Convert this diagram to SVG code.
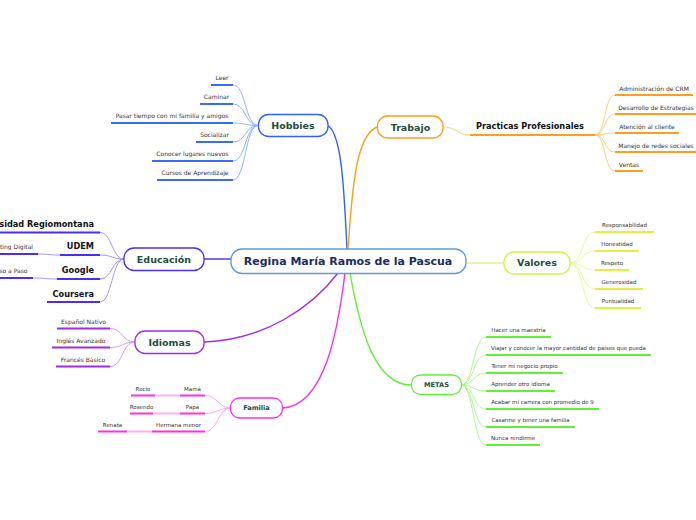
<svg xmlns="http://www.w3.org/2000/svg" width="696" height="520" viewBox="0 0 696 520">
<style>
text{font-family:"DejaVu Sans",Verdana,sans-serif}
.box{fill:#fff;stroke-width:1.3}
.nt{font-weight:bold;font-size:9.5px;fill:#1e4d3b;text-anchor:middle}
.st{font-weight:bold;font-size:6.6px;fill:#1e4d3b;text-anchor:middle}
.bt{font-weight:bold;font-size:8.2px;fill:#111}
.t6{font-size:6px;fill:#333;text-anchor:middle}
.t5{font-size:5.5px;fill:#333;text-anchor:middle}
.ul{stroke-width:2;fill:none}
.cn{fill:none;stroke-width:0.9}
.br{fill:none;stroke-width:1.4}
</style>
<rect width="696" height="520" fill="#fff"/>
<g id="connectors">
  <path class="br" stroke="#2f62f5" d="M347,249 C344,190 342,135 328,125.5"/>
  <path class="br" stroke="#ff9e1a" d="M348,249 C352,190 356,135 377,127"/>
  <path class="br" stroke="#4b2cf0" d="M231,259 L204,259"/>
  <path class="br" stroke="#e4ee90" d="M466,263 L504,263"/>
  <path class="br" stroke="#a12af0" d="M338,273 C312,307 265,340 204,342"/>
  <path class="br" stroke="#ff2ee0" d="M345,273 C338,330 325,405 283,408"/>
  <path class="br" stroke="#62ef35" d="M350,273 C360,330 375,385 411,385"/>
  <g stroke="#8aa8ff" class="cn">
    <path d="M258,125.5 C245,125.5 246,85 233,85"/>
    <path d="M258,125.5 C245,125.5 246,104 233,104"/>
    <path d="M258,125.5 C245,125.5 246,123 233,123"/>
    <path d="M258,125.5 C245,125.5 246,142 233,142"/>
    <path d="M258,125.5 C245,125.5 246,161 233,161"/>
    <path d="M258,125.5 C245,125.5 246,180 233,180"/>
  </g>
  <g stroke="#ffc870" class="cn">
    <path d="M443,127 C458,127 456,135 470,135"/>
    <path d="M595,135 C606,135 604,95 615,95"/>
    <path d="M595,135 C606,135 604,114 615,114"/>
    <path d="M595,135 C606,135 604,133 615,133"/>
    <path d="M595,135 C606,135 604,152 615,152"/>
    <path d="M595,135 C606,135 604,171 615,171"/>
  </g>
  <g stroke="#e8f78a" class="cn">
    <path d="M570,263 C583,263 582,232 595,232"/>
    <path d="M570,263 C583,263 582,251 595,251"/>
    <path d="M570,263 C583,263 582,270 595,270"/>
    <path d="M570,263 C583,263 582,289 595,289"/>
    <path d="M570,263 C583,263 582,308 595,308"/>
  </g>
  <g stroke="#a8f58c" class="cn">
    <path d="M461,385 C474,385 473,337 486,337"/>
    <path d="M461,385 C474,385 473,355 486,355"/>
    <path d="M461,385 C474,385 473,373 486,373"/>
    <path d="M461,385 C474,385 473,391 486,391"/>
    <path d="M461,385 C474,385 473,409 486,409"/>
    <path d="M461,385 C474,385 473,427 486,427"/>
    <path d="M461,385 C474,385 473,445 486,445"/>
  </g>
  <g stroke="#9a8cf5" class="cn">
    <path d="M124,259 C112,259 112,232.5 100,232.5"/>
    <path d="M124,259 C112,259 112,255 100,255"/>
    <path d="M124,259 C112,259 112,279 100,279"/>
    <path d="M124,259 C112,259 112,302 100,302"/>
    <path d="M60,255 C49,255 49,254 38,254"/>
    <path d="M57,279 C45,279 45,278 33,278"/>
  </g>
  <g stroke="#cf90f5" class="cn">
    <path d="M135,342 C122,342 123,328.5 110,328.5"/>
    <path d="M135,342 C122,342 123,347.5 110,347.5"/>
    <path d="M135,342 C122,342 123,366.5 110,366.5"/>
  </g>
  <g stroke="#ff9cf0" class="cn">
    <path d="M230.5,408 C218,408 218,395.5 205,395.5"/>
    <path d="M230.5,408 C218,408 218,413.5 205,413.5"/>
    <path d="M230.5,408 C218,408 218,431.5 205,431.5"/>
  </g>
  <g stroke="#ffb0f2" stroke-width="2">
    <path d="M155,395.5 L180,395.5"/>
    <path d="M153,413.5 L180,413.5"/>
    <path d="M127,431.5 L152,431.5"/>
  </g>
</g>

<g id="central">
  <rect class="box" x="231" y="249" width="235" height="24.5" rx="11" stroke="#5b9bd5"/>
  <text x="348" y="265.3" font-weight="bold" font-size="11px" fill="#1c2d5e" text-anchor="middle">Regina María Ramos de la Pascua</text>
</g>

<g id="hobbies">
  <rect class="box" x="258.5" y="114.5" width="69.5" height="22" rx="10" stroke="#2f62f5"/>
  <text class="nt" x="293" y="129">Hobbies</text>
</g>
<g id="hobbies-items" stroke="#3a6cf5">
  <g id="leer"><path class="ul" d="M211,85H233"/><text class="t6" stroke="none" x="222" y="80">Leer</text></g>
  <g id="caminar"><path class="ul" d="M200,104H233"/><text class="t6" stroke="none" x="216.5" y="99">Caminar</text></g>
  <g id="pasar"><path class="ul" d="M111,123H233"/><text class="t6" stroke="none" x="172" y="118">Pasar tiempo con mi familia y amigos</text></g>
  <g id="socializar"><path class="ul" d="M196,142H233"/><text class="t6" stroke="none" x="214.5" y="137">Socializar</text></g>
  <g id="conocer"><path class="ul" d="M152,161H233"/><text class="t6" stroke="none" x="192.5" y="156">Conocer lugares nuevos</text></g>
  <g id="cursos"><path class="ul" d="M157,180H233"/><text class="t6" stroke="none" x="195" y="175">Cursos de Aprendizaje</text></g>
</g>

<g id="trabajo">
  <rect class="box" x="377.5" y="116" width="65.5" height="22" rx="10" stroke="#ff9e1a"/>
  <text class="nt" x="410.5" y="130.5">Trabajo</text>
</g>
<g id="practicas" stroke="#ff9e1a">
  <path class="ul" d="M470,135H595"/>
  <text class="bt" stroke="none" x="530" y="129.3" style="text-anchor:middle">Practicas Profesionales</text>
</g>
<g id="trabajo-items" stroke="#ff9e1a">
  <g id="crm"><path class="ul" d="M615,95H693"/><text class="t6" stroke="none" x="654" y="90.5">Administración de CRM</text></g>
  <g id="estrategias"><path class="ul" d="M615,114H697"/><text class="t6" stroke="none" x="656" y="109.5">Desarrollo de Estrategias</text></g>
  <g id="atencion"><path class="ul" d="M615,133H679"/><text class="t6" stroke="none" x="647" y="128.5">Atención al cliente</text></g>
  <g id="redes"><path class="ul" d="M615,152H697"/><text class="t6" stroke="none" x="656" y="147.5">Manejo de redes sociales</text></g>
  <g id="ventas"><path class="ul" d="M615,171H643"/><text class="t6" stroke="none" x="629" y="166.5">Ventas</text></g>
</g>

<g id="valores">
  <rect class="box" x="504" y="252" width="66" height="22" rx="10" stroke="#d8f23c"/>
  <text class="nt" x="537" y="266.4">Valores</text>
</g>
<g id="valores-items" stroke="#e0f23c">
  <g id="responsabilidad"><path class="ul" d="M595,232H654"/><text class="t5" stroke="none" x="624.5" y="227">Responsabilidad</text></g>
  <g id="honestidad"><path class="ul" d="M595,251H639"/><text class="t5" stroke="none" x="617" y="246">Honestidad</text></g>
  <g id="respeto"><path class="ul" d="M595,270H629"/><text class="t5" stroke="none" x="612" y="265">Respeto</text></g>
  <g id="generosidad"><path class="ul" d="M595,289H643"/><text class="t5" stroke="none" x="619" y="284">Generosidad</text></g>
  <g id="puntualidad"><path class="ul" d="M595,308H641"/><text class="t5" stroke="none" x="618" y="303">Puntualidad</text></g>
</g>

<g id="metas">
  <rect class="box" x="411.5" y="375" width="50" height="19.5" rx="9" stroke="#62ef35"/>
  <text class="st" x="436.5" y="387.4">METAS</text>
</g>
<g id="metas-items" stroke="#62ef35">
  <g id="maestria"><path class="ul" d="M486,337H551"/><text class="t5" stroke="none" x="518.5" y="332">Hacer una maestría</text></g>
  <g id="viajar"><path class="ul" d="M486,355H651"/><text class="t5" stroke="none" x="568.5" y="350">Viajar y conocer la mayor cantidad de países que pueda</text></g>
  <g id="negocio"><path class="ul" d="M486,373H563"/><text class="t5" stroke="none" x="524.5" y="368">Tener mi negocio propio</text></g>
  <g id="idioma"><path class="ul" d="M486,391H555"/><text class="t5" stroke="none" x="520.5" y="386">Aprender otro idioma</text></g>
  <g id="carrera"><path class="ul" d="M486,409H599"/><text class="t5" stroke="none" x="542.5" y="404">Acabar mi carrera con promedio de 9</text></g>
  <g id="casarme"><path class="ul" d="M486,427H575"/><text class="t5" stroke="none" x="530.5" y="422">Casarme y tener una familia</text></g>
  <g id="nunca"><path class="ul" d="M486,445H540"/><text class="t5" stroke="none" x="513" y="440">Nunca rendirme</text></g>
</g>

<g id="educacion">
  <rect class="box" x="124" y="248" width="80" height="22.5" rx="10" stroke="#4b2cf0"/>
  <text class="nt" x="164" y="262.6">Educación</text>
</g>
<g id="educacion-items" stroke="#4b2cf0">
  <g id="universidad"><path class="ul" d="M-40,232.5H100"/><text class="bt" stroke="none" x="94" y="226.6" style="text-anchor:end">Universidad Regiomontana</text></g>
  <g id="udem"><path class="ul" d="M60,255H100"/><text class="bt" stroke="none" x="94" y="249.4" style="text-anchor:end">UDEM</text></g>
  <g id="marketing"><path class="ul" d="M-25,254H38"/><text class="t6" stroke="none" x="33" y="249" style="text-anchor:end">Marketing Digital</text></g>
  <g id="google"><path class="ul" d="M57,279H100"/><text class="bt" stroke="none" x="94" y="273.4" style="text-anchor:end">Google</text></g>
  <g id="paso"><path class="ul" d="M-5,278H33"/><text class="t6" stroke="none" x="27.5" y="273" style="text-anchor:end">Paso a Paso</text></g>
  <g id="coursera"><path class="ul" d="M47,302H100"/><text class="bt" stroke="none" x="94" y="296.6" style="text-anchor:end">Coursera</text></g>
</g>

<g id="idiomas">
  <rect class="box" x="135" y="331" width="69" height="22.5" rx="10" stroke="#a12af0"/>
  <text class="nt" x="169.5" y="345.5">Idiomas</text>
</g>
<g id="idiomas-items" stroke="#a12af0">
  <g id="espanol"><path class="ul" d="M57,328.5H110"/><text class="t6" stroke="none" x="83.5" y="323.8">Español Nativo</text></g>
  <g id="ingles"><path class="ul" d="M52,347.5H110"/><text class="t6" stroke="none" x="81" y="342.8">Inglés Avanzado</text></g>
  <g id="frances"><path class="ul" d="M56,366.5H110"/><text class="t6" stroke="none" x="83" y="361.8">Francés Básico</text></g>
</g>

<g id="familia">
  <rect class="box" x="230.5" y="398" width="52" height="20" rx="9" stroke="#ff2ee0"/>
  <text class="st" x="256.5" y="410.4">Familia</text>
</g>
<g id="familia-items" stroke="#ff2ee0">
  <g id="mama"><path class="ul" d="M180,395.5H205"/><text class="t5" stroke="none" x="192.5" y="390.6">Mamá</text></g>
  <g id="rocio"><path class="ul" d="M131,395.5H155"/><text class="t5" stroke="none" x="143" y="390.6">Rocio</text></g>
  <g id="papa"><path class="ul" d="M180,413.5H205"/><text class="t5" stroke="none" x="192.5" y="408.6">Papá</text></g>
  <g id="rosendo"><path class="ul" d="M130,413.5H153"/><text class="t5" stroke="none" x="141.5" y="408.6">Rosendo</text></g>
  <g id="hermana"><path class="ul" d="M152,431.5H205"/><text class="t5" stroke="none" x="178.5" y="426.6">Hermana menor</text></g>
  <g id="renata"><path class="ul" d="M98,431.5H127"/><text class="t5" stroke="none" x="112.5" y="426.6">Renata</text></g>
</g>
</svg>
